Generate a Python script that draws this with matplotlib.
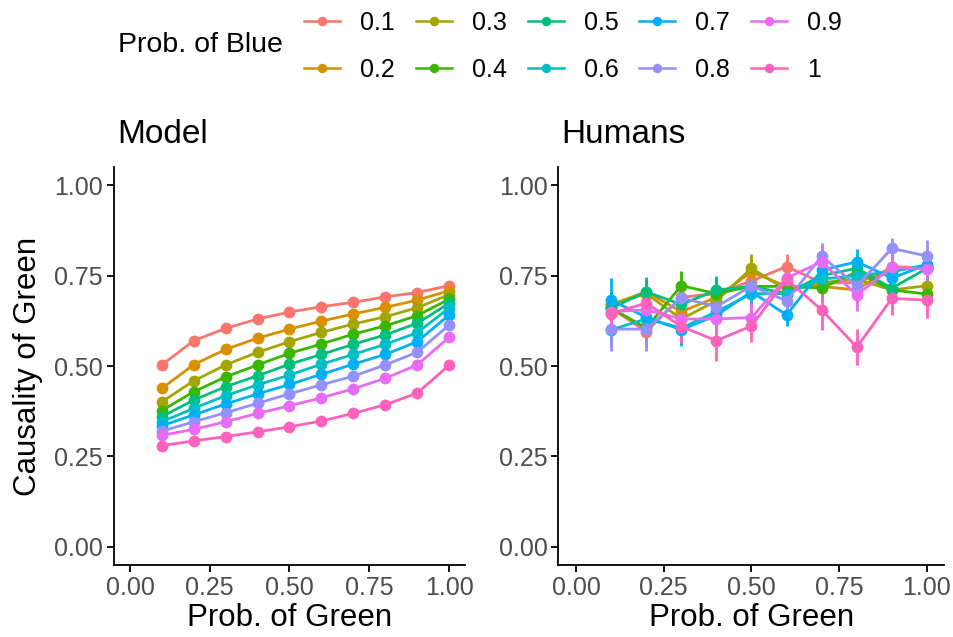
import matplotlib
matplotlib.use("Agg")
import matplotlib.pyplot as plt
from matplotlib.lines import Line2D
import numpy as np

plt.rcParams['font.family'] = ['Liberation Sans', 'DejaVu Sans']

prob_green = [0.1, 0.2, 0.3, 0.4, 0.5, 0.6, 0.7, 0.8, 0.9, 1.0]
blue_levels = ["0.1", "0.2", "0.3", "0.4", "0.5", "0.6", "0.7", "0.8", "0.9", "1"]
colors = ["#F8766D", "#D89000", "#A3A500", "#39B600", "#00BF7D",
          "#00BFC4", "#00B0F6", "#9590FF", "#E76BF3", "#FF62BC"]

# Model predictions (one row per Prob. of Blue level)
model_01 = [0.503, 0.570, 0.604, 0.630, 0.649, 0.664, 0.676, 0.691, 0.703, 0.722]
model_02 = [0.438, 0.504, 0.546, 0.577, 0.602, 0.624, 0.644, 0.662, 0.682, 0.708]
model_03 = [0.401, 0.459, 0.503, 0.538, 0.567, 0.593, 0.616, 0.636, 0.661, 0.697]
model_04 = [0.377, 0.429, 0.470, 0.503, 0.535, 0.561, 0.588, 0.611, 0.639, 0.685]
model_05 = [0.360, 0.406, 0.443, 0.473, 0.505, 0.532, 0.560, 0.586, 0.618, 0.673]
model_06 = [0.346, 0.383, 0.418, 0.448, 0.475, 0.505, 0.532, 0.560, 0.592, 0.660]
model_07 = [0.335, 0.365, 0.395, 0.423, 0.449, 0.477, 0.505, 0.532, 0.567, 0.641]
model_08 = [0.320, 0.346, 0.371, 0.397, 0.423, 0.448, 0.472, 0.503, 0.538, 0.613]
model_09 = [0.308, 0.325, 0.346, 0.369, 0.390, 0.412, 0.437, 0.466, 0.503, 0.579]
model_10 = [0.280, 0.293, 0.305, 0.318, 0.332, 0.348, 0.369, 0.393, 0.425, 0.502]
model = [model_01, model_02, model_03, model_04, model_05,
         model_06, model_07, model_08, model_09, model_10]

# Human judgments (means)
human_01 = [0.660, 0.595, 0.690, 0.700, 0.735, 0.775, 0.730, 0.730, 0.770, 0.770]
human_02 = [0.670, 0.705, 0.650, 0.690, 0.760, 0.720, 0.720, 0.710, 0.775, 0.770]
human_03 = [0.670, 0.700, 0.630, 0.680, 0.770, 0.710, 0.730, 0.740, 0.710, 0.722]
human_04 = [0.660, 0.605, 0.722, 0.700, 0.720, 0.720, 0.715, 0.760, 0.710, 0.699]
human_05 = [0.660, 0.705, 0.670, 0.710, 0.720, 0.700, 0.750, 0.770, 0.715, 0.770]
human_06 = [0.600, 0.630, 0.605, 0.650, 0.700, 0.700, 0.740, 0.750, 0.760, 0.780]
human_07 = [0.682, 0.635, 0.600, 0.640, 0.705, 0.641, 0.765, 0.788, 0.743, 0.780]
human_08 = [0.602, 0.602, 0.688, 0.664, 0.721, 0.680, 0.804, 0.721, 0.825, 0.804]
human_09 = [0.650, 0.655, 0.630, 0.630, 0.634, 0.743, 0.788, 0.696, 0.773, 0.768]
human_10 = [0.645, 0.674, 0.609, 0.570, 0.611, 0.739, 0.655, 0.552, 0.687, 0.682]
human = [human_01, human_02, human_03, human_04, human_05,
         human_06, human_07, human_08, human_09, human_10]

# Human standard errors
human_se_01 = [0.040, 0.045, 0.035, 0.035, 0.035, 0.035, 0.035, 0.035, 0.040, 0.040]
human_se_02 = [0.035, 0.035, 0.040, 0.035, 0.040, 0.035, 0.035, 0.035, 0.035, 0.035]
human_se_03 = [0.035, 0.040, 0.040, 0.035, 0.040, 0.035, 0.035, 0.035, 0.035, 0.035]
human_se_04 = [0.035, 0.040, 0.040, 0.040, 0.035, 0.035, 0.035, 0.035, 0.035, 0.035]
human_se_05 = [0.035, 0.040, 0.035, 0.040, 0.035, 0.035, 0.035, 0.035, 0.035, 0.035]
human_se_06 = [0.045, 0.040, 0.040, 0.035, 0.035, 0.035, 0.035, 0.035, 0.035, 0.035]
human_se_07 = [0.060, 0.040, 0.045, 0.035, 0.035, 0.030, 0.035, 0.035, 0.035, 0.035]
human_se_08 = [0.060, 0.060, 0.040, 0.040, 0.040, 0.035, 0.035, 0.035, 0.030, 0.045]
human_se_09 = [0.040, 0.040, 0.040, 0.040, 0.040, 0.040, 0.045, 0.045, 0.040, 0.040]
human_se_10 = [0.040, 0.040, 0.045, 0.055, 0.045, 0.040, 0.055, 0.050, 0.045, 0.050]
human_se = [human_se_01, human_se_02, human_se_03, human_se_04, human_se_05,
            human_se_06, human_se_07, human_se_08, human_se_09, human_se_10]

W, H = 954, 637
fig = plt.figure(figsize=(W / 100, H / 100), dpi=100)

ax1 = fig.add_axes([114 / W, 72 / H, 351 / W, 398 / H])
ax2 = fig.add_axes([558.5 / W, 72 / H, 386 / W, 398 / H])

lw = 2.0
ms = 8.5
for i in range(10):
    ax1.plot(prob_green, model[i], color=colors[i], lw=lw, marker='o',
             ms=ms, mec='none', zorder=3)

for i in range(10):
    ax2.errorbar(prob_green, human[i], yerr=human_se[i], color=colors[i],
                 lw=lw, elinewidth=lw, capsize=0, marker='o', ms=ms, mec='none',
                 zorder=3)

ticks = [0.0, 0.25, 0.5, 0.75, 1.0]
ticklabels = ["0.00", "0.25", "0.50", "0.75", "1.00"]
for ax, title in [(ax1, "Model"), (ax2, "Humans")]:
    ax.set_xlim(-0.05, 1.05)
    ax.set_ylim(-0.05, 1.05)
    ax.set_xticks(ticks)
    ax.set_xticklabels(ticklabels)
    ax.set_yticks(ticks)
    ax.set_yticklabels(ticklabels)
    for s in ['top', 'right']:
        ax.spines[s].set_visible(False)
    for s in ['left', 'bottom']:
        ax.spines[s].set_linewidth(1.3)
        ax.spines[s].set_color('black')
    ax.tick_params(axis='both', which='major', length=5, width=1.3,
                   color='black', labelcolor='#4D4D4D', labelsize=18, pad=3)
    ax.set_xlabel("Prob. of Green", fontsize=22.5, labelpad=2)
    ax.set_title(title, fontsize=24, loc='left', pad=17, x=0.008)

ax1.set_ylabel("Causality of Green", fontsize=22.5, labelpad=8)

handles = [Line2D([], [], color=colors[i], lw=1.8, marker='o', ms=6.8,
                  mec='none', label=blue_levels[i]) for i in range(10)]
leg = fig.legend(handles=handles, ncol=5, loc='upper left',
                 bbox_to_anchor=(304 / W, 1 - 11 / H), frameon=False,
                 fontsize=18, handlelength=1.44, handletextpad=0.8,
                 columnspacing=0.84, labelspacing=0.92, borderpad=0,
                 borderaxespad=0)
fig.text(118 / W, 1 - 45 / H, "Prob. of Blue", fontsize=20.5,
         ha='left', va='center')

fig.savefig("out.png", dpi=100)
